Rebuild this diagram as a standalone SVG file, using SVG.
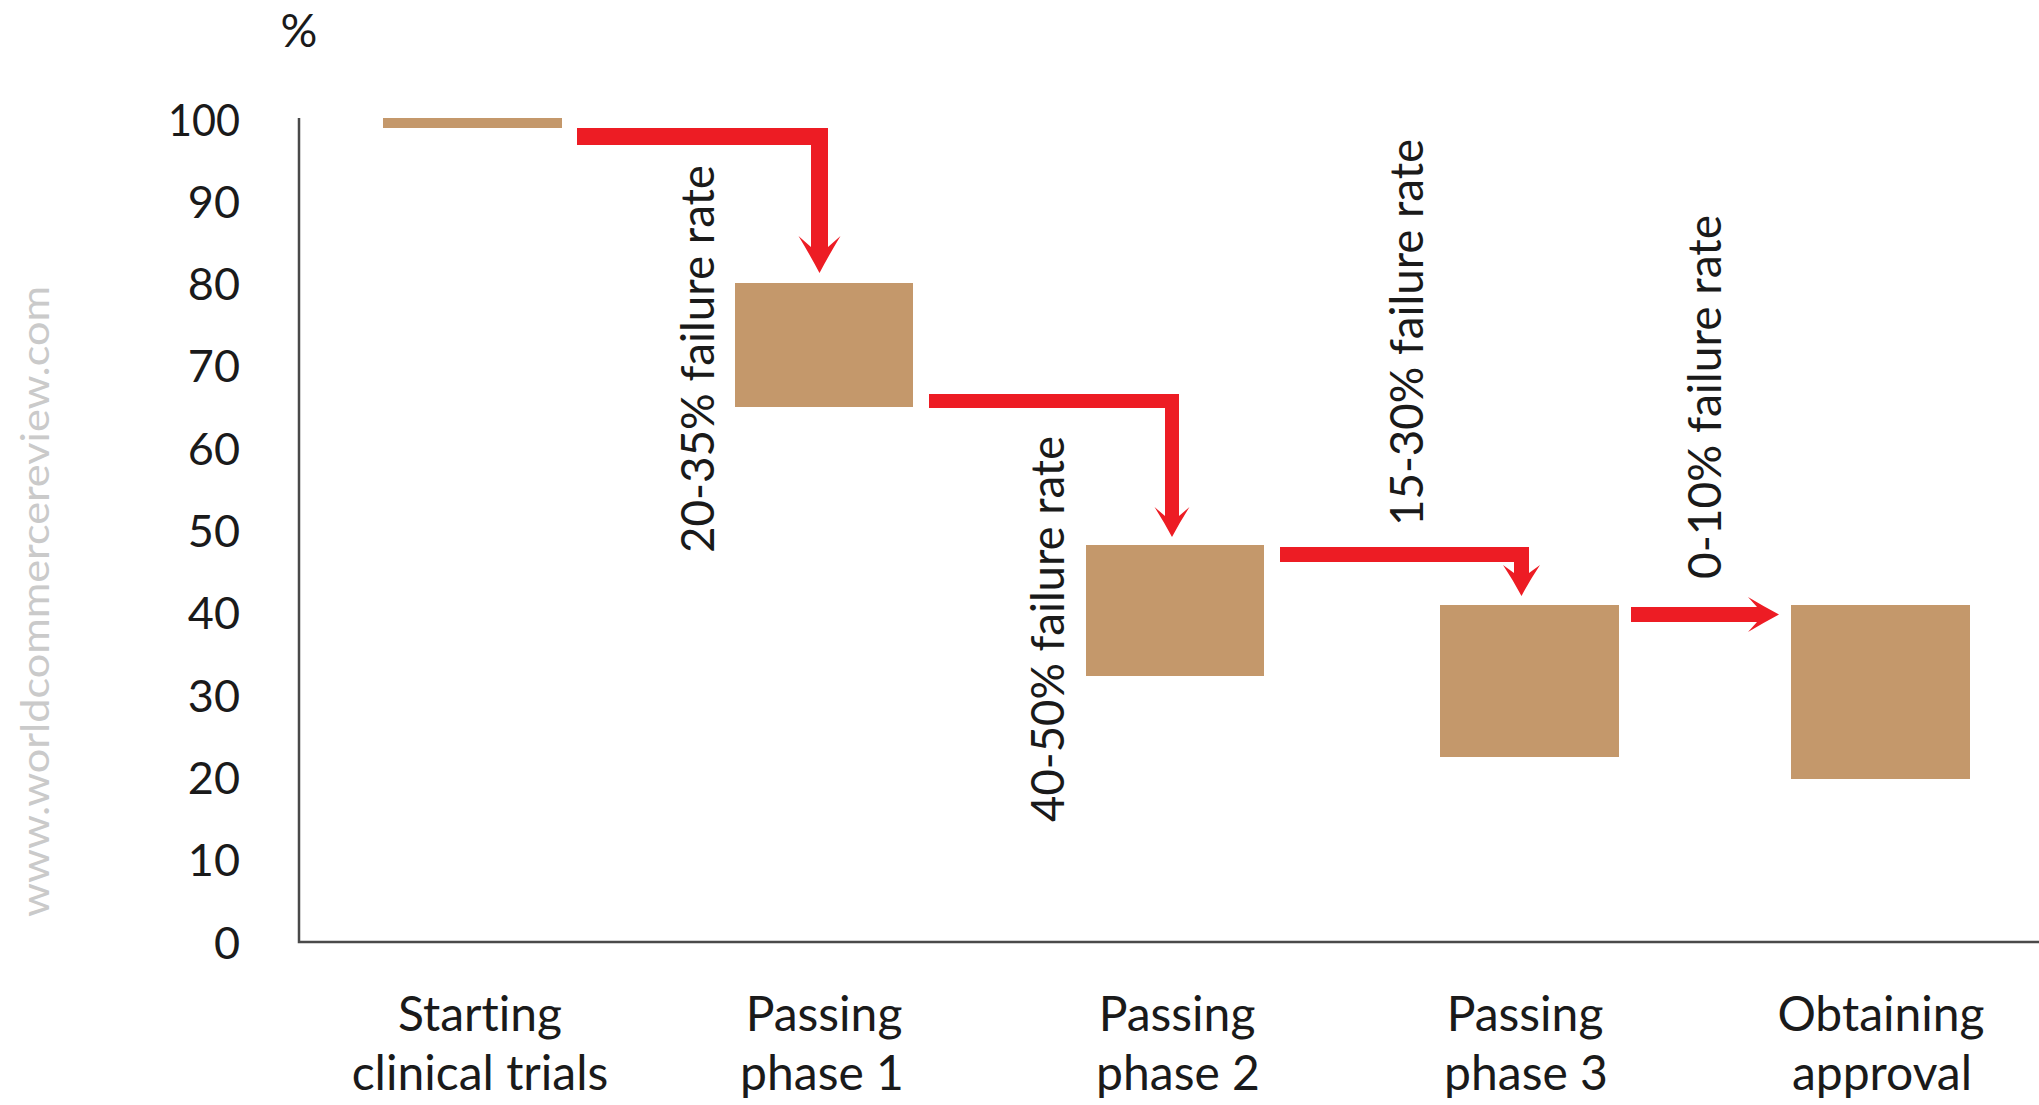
<svg xmlns="http://www.w3.org/2000/svg" width="2039" height="1105" viewBox="0 0 2039 1105">
  <style>
    text { font-variant-ligatures: none; }
    .bar { fill: #C4986B; }
    .arrow { fill: #ED1C24; }
    .axis { stroke: #4a4a4a; stroke-width: 2.5; fill: none; }
    .tick { font-family: Lato, "Open Sans", sans-serif; font-size: 45px; fill: #1a1a1a; text-anchor: end; }
    .xlab { font-family: Lato, "Open Sans", sans-serif; font-size: 48px; fill: #1a1a1a; text-anchor: middle; }
    .rate { font-family: Lato, "Open Sans", sans-serif; font-size: 47px; fill: #1a1a1a; }
    .unit { font-family: Lato, "Open Sans", sans-serif; font-size: 46px; fill: #1a1a1a; text-anchor: middle; }
    .wm { font-family: Lato, "Open Sans", sans-serif; font-size: 38px; fill: #cacaca; }
  </style>
  <rect width="2039" height="1105" fill="#ffffff"/>

  <text class="wm" transform="translate(49,917) rotate(-90)" textLength="631" lengthAdjust="spacingAndGlyphs">www.worldcommercereview.com</text>

  <g id="axes">
    <text class="unit" x="299" y="47">%</text>
    <path class="axis" d="M299,118 V942 H2039"/>
    <text class="tick" x="240" y="135.5" textLength="72" lengthAdjust="spacingAndGlyphs">100</text>
    <text class="tick" x="240" y="217.8">90</text>
    <text class="tick" x="240" y="300.1">80</text>
    <text class="tick" x="240" y="382.4">70</text>
    <text class="tick" x="240" y="464.7">60</text>
    <text class="tick" x="240" y="547">50</text>
    <text class="tick" x="240" y="629.3">40</text>
    <text class="tick" x="240" y="711.6">30</text>
    <text class="tick" x="240" y="793.9">20</text>
    <text class="tick" x="240" y="876.2">10</text>
    <text class="tick" x="240" y="958.5">0</text>
  </g>

  <g id="node-start">
    <rect class="bar" x="383" y="118" width="179" height="10"/>
    <text class="xlab" x="480" y="1031">Starting</text>
    <text class="xlab" x="480" y="1090">clinical trials</text>
  </g>
  <g id="node-phase1">
    <rect class="bar" x="735" y="283" width="178" height="124"/>
    <text class="xlab" x="824" y="1031">Passing</text>
    <text class="xlab" x="822" y="1090">phase 1</text>
  </g>
  <g id="node-phase2">
    <rect class="bar" x="1086" y="545" width="178" height="131"/>
    <text class="xlab" x="1177" y="1031">Passing</text>
    <text class="xlab" x="1178" y="1090">phase 2</text>
  </g>
  <g id="node-phase3">
    <rect class="bar" x="1440" y="605" width="179" height="152"/>
    <text class="xlab" x="1525" y="1031">Passing</text>
    <text class="xlab" x="1526" y="1090">phase 3</text>
  </g>
  <g id="node-approval">
    <rect class="bar" x="1791" y="605" width="179" height="174"/>
    <text class="xlab" x="1881" y="1031">Obtaining</text>
    <text class="xlab" x="1882" y="1090">approval</text>
  </g>

  <g id="connectors">
    <g id="edge-1">
      <path class="arrow" d="M577,128 H828 V247 L840.5,236 Q829,255 819.5,273 Q810,255 798.5,236 L811,247 V145 H577 Z"/>
      <text class="rate" transform="translate(714,553) rotate(-90)" textLength="388" lengthAdjust="spacingAndGlyphs">20-35% failure rate</text>
    </g>
    <g id="edge-2">
      <path class="arrow" d="M929,394 H1179 V516 L1189.5,507 Q1180,522 1172,537 Q1164,522 1154.5,507 L1165,516 V408 H929 Z"/>
      <text class="rate" transform="translate(1064,822) rotate(-90)" textLength="386" lengthAdjust="spacingAndGlyphs">40-50% failure rate</text>
    </g>
    <g id="edge-3">
      <path class="arrow" d="M1280,547 H1529 V573 L1540,565 Q1530,580 1521.5,596 Q1513,580 1503,565 L1514,573 V562 H1280 Z"/>
      <text class="rate" transform="translate(1423,526) rotate(-90)" textLength="387" lengthAdjust="spacingAndGlyphs">15-30% failure rate</text>
    </g>
    <g id="edge-4">
      <path class="arrow" d="M1631,607 H1757 L1748,597 Q1763,606 1779,614.5 Q1763,623 1748,632 L1757,622 H1631 Z"/>
      <text class="rate" transform="translate(1721,579) rotate(-90)" textLength="364" lengthAdjust="spacingAndGlyphs">0-10% failure rate</text>
    </g>
  </g>
</svg>
